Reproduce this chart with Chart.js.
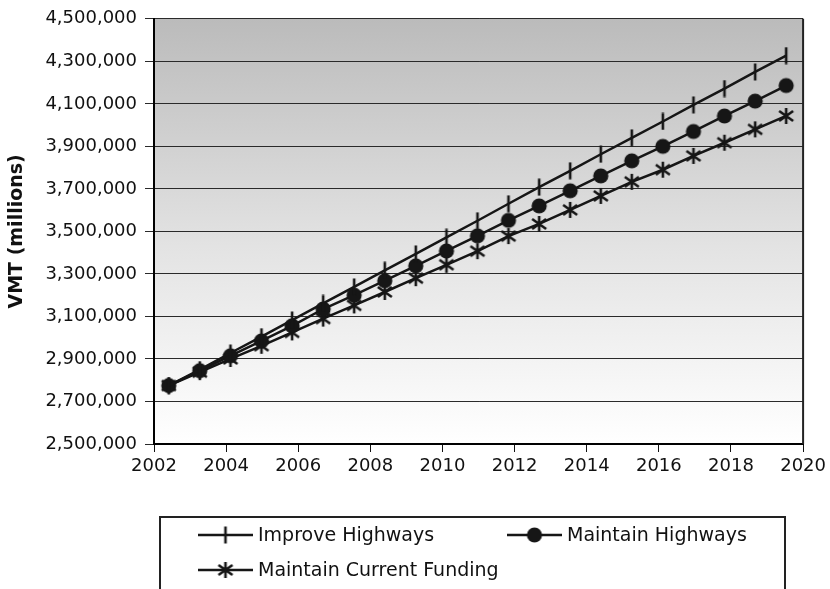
<!DOCTYPE html>
<html>
<head>
<meta charset="utf-8">
<script src="https://cdn.jsdelivr.net/npm/chart.js@4/dist/chart.umd.min.js"></script>
<style>
  html, body { margin: 0; padding: 0; background: #fff; }
  #wrap { width: 830px; height: 589px; position: relative; }
</style>
</head>
<body>
<div id="wrap"><canvas id="vmtChart" width="830" height="589"></canvas></div>
<script>
// year positions of the points
const years = [2002.41, 2003.27, 2004.12, 2004.98, 2005.83, 2006.69, 2007.55, 2008.40, 2009.26, 2010.11,
  2010.97, 2011.83, 2012.68, 2013.54, 2014.39, 2015.25, 2016.11, 2016.96, 2017.82, 2018.67, 2019.53];

// VMT in millions
const improveHighways = [2775000, 2850000, 2928000, 3005000, 3083000, 3161000, 3239000, 3317000, 3394000, 3472000,
  3550000, 3630000, 3708000, 3785000, 3863000, 3940000, 4017000, 4095000, 4172000, 4250000, 4327000];
const maintainHighways = [2775000, 2845000, 2915000, 2985000, 3056000, 3135000, 3200000, 3268000, 3338000, 3408000,
  3479000, 3552000, 3620000, 3691000, 3761000, 3832000, 3900000, 3970000, 4043000, 4113000, 4186000];
const maintainFunding = [2775000, 2838000, 2900000, 2962000, 3025000, 3090000, 3152000, 3215000, 3280000, 3343000,
  3407000, 3478000, 3535000, 3601000, 3667000, 3733000, 3790000, 3855000, 3917000, 3980000, 4043000];

const seriesLabels = ['Improve Highways', 'Maintain Highways', 'Maintain Current Funding'];
const yTicks = { min: 2500000, max: 4500000, step: 200000 };
const xTicks = { min: 2002, max: 2020, step: 2 };

const FONT = "'DejaVu Sans', Verdana, sans-serif";
const INK = '#161616';

// marker images
function makeMarker(kind) {
  const c = document.createElement('canvas');
  c.width = 18; c.height = 18;
  const g = c.getContext('2d');
  g.strokeStyle = INK; g.fillStyle = INK; g.lineWidth = 2.6;
  g.beginPath();
  if (kind === 'tick') {
    g.moveTo(9, 0.5); g.lineTo(9, 17.5); g.stroke();
  } else if (kind === 'dot') {
    g.arc(9, 9, 7.6, 0, Math.PI * 2); g.fill();
  } else {
    g.moveTo(9, 1); g.lineTo(9, 17);
    g.moveTo(2, 4); g.lineTo(16, 14);
    g.moveTo(16, 4); g.lineTo(2, 14);
    g.stroke();
  }
  return c;
}
const markers = [makeMarker('tick'), makeMarker('dot'), makeMarker('star')];

const toPoints = vals => vals.map((v, i) => ({ x: years[i], y: v }));

const plotBackground = {
  id: 'plotBackground',
  beforeDraw(chart) {
    const { ctx, chartArea: a } = chart;
    const grad = ctx.createLinearGradient(0, a.top, 0, a.bottom);
    grad.addColorStop(0, '#bbbbbb');
    grad.addColorStop(0.55, '#e4e4e4');
    grad.addColorStop(1, '#ffffff');
    ctx.save();
    ctx.fillStyle = grad;
    ctx.fillRect(a.left, a.top, a.right - a.left, a.bottom - a.top);
    ctx.restore();
  },
  afterDraw(chart) {
    const { ctx, chartArea: a } = chart;
    ctx.save();
    ctx.strokeStyle = '#222';
    ctx.lineWidth = 2;
    ctx.beginPath();
    ctx.moveTo(a.right, a.top);
    ctx.lineTo(a.right, a.bottom);
    ctx.stroke();
    ctx.restore();
  }
};

// boxed legend under the plot, two items on first row
const boxLegend = {
  id: 'boxLegend',
  afterDraw(chart) {
    const ctx = chart.ctx;
    const spots = [[198, 535], [507, 535], [198, 570]];
    ctx.save();
    ctx.strokeStyle = '#222';
    ctx.lineWidth = 2;
    ctx.strokeRect(160, 517, 625, 100);
    ctx.font = '19px ' + FONT;
    ctx.fillStyle = '#111';
    ctx.textBaseline = 'middle';
    chart.data.datasets.forEach((ds, i) => {
      const [x, y] = spots[i];
      ctx.strokeStyle = INK;
      ctx.lineWidth = 2.5;
      ctx.beginPath();
      ctx.moveTo(x, y); ctx.lineTo(x + 55, y); ctx.stroke();
      ctx.drawImage(markers[i], x + 27.5 - 9, y - 9);
      ctx.fillText(ds.label, x + 60, y + 1);
    });
    ctx.restore();
  }
};

const datasets = [improveHighways, maintainHighways, maintainFunding].map((vals, i) => ({
  label: seriesLabels[i],
  data: toPoints(vals),
  borderColor: INK,
  backgroundColor: INK,
  borderWidth: 2.5,
  pointStyle: markers[i],
  pointRadius: 9,
  tension: 0
}));

new Chart(document.getElementById('vmtChart'), {
  type: 'line',
  data: { datasets },
  plugins: [plotBackground, boxLegend],
  options: {
    responsive: false,
    animation: false,
    devicePixelRatio: 1,
    layout: { padding: { top: 17, right: 24, left: 0, bottom: 0 } },
    plugins: { legend: { display: false }, tooltip: { enabled: false } },
    scales: {
      x: {
        type: 'linear',
        min: xTicks.min,
        max: xTicks.max,
        afterFit: s => { s.height = 145; },
        ticks: {
          stepSize: xTicks.step,
          color: '#111',
          font: { family: FONT, size: 18 },
          padding: 4,
          maxRotation: 0,
          callback: v => String(v)
        },
        grid: { drawOnChartArea: false, color: '#111', tickLength: 8 },
        border: { color: '#000', width: 2 }
      },
      y: {
        min: yTicks.min,
        max: yTicks.max,
        afterFit: s => { s.width = 154; },
        ticks: {
          stepSize: yTicks.step,
          color: '#111',
          font: { family: FONT, size: 18 },
          padding: 8,
          callback: v => v.toLocaleString('en-US')
        },
        grid: { color: '#2a2a2a', lineWidth: 1, tickLength: 9 },
        border: { color: '#000', width: 2 },
        title: {
          display: true,
          text: 'VMT (millions)',
          color: '#111',
          font: { family: FONT, size: 19, weight: 'bold' },
          padding: { top: 6, bottom: 0 }
        }
      }
    }
  }
});
</script>
</body>
</html>
